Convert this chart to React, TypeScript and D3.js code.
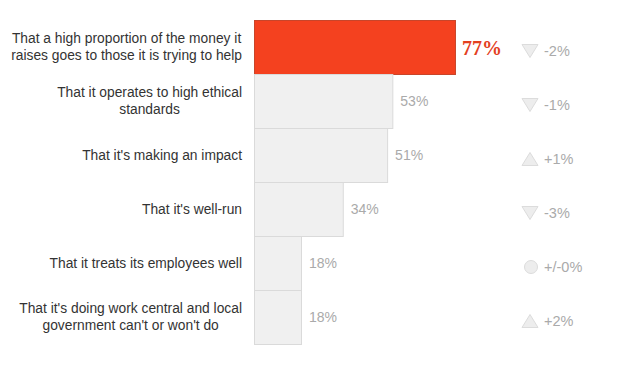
import React from "react";
import * as d3 from "d3";

const categories = [
  ["That a high proportion of the money it", "raises goes to those it is trying to help"],
  ["That it operates to high ethical", "standards"],
  ["That it's making an impact"],
  ["That it's well-run"],
  ["That it treats its employees well"],
  ["That it's doing work central and local", "government can't or won't do"],
];
const values = [77, 53, 51, 34, 18, 18];
const changes = [-2, -1, 1, -3, 0, 2];
const changeLabels = ["-2%", "-1%", "+1%", "-3%", "+/-0%", "+2%"];

let ctx: CanvasRenderingContext2D | null = null;
function measure(t: string, font: string) {
  if (!ctx) ctx = document.createElement("canvas").getContext("2d");
  if (!ctx) return t.length * 7;
  ctx.font = font;
  return ctx.measureText(t).width;
}

export default function App() {
  const W = 632, H = 384;
  const x = d3.scaleLinear().domain([0, 100]).range([254, 515]);
  const y = d3.scaleBand<number>().domain(d3.range(values.length)).range([20, 344]).padding(0);
  const bw = y.bandwidth();
  const font = "'Liberation Sans', Arial, sans-serif";
  const fs = 13.8;
  const labelRight = 242;
  return (
    <svg width={W} height={H} style={{ position: "absolute", left: 0, top: 0, background: "#fff" }}>
      {values.map((v, i) => {
        const y0 = y(i)!;
        const cy = y0 + bw / 2;
        const hl = i === 0;
        const lines = categories[i];
        const lh = 17;
        const ch = changes[i];
        const tx = 530;
        const ty = cy + 4;
        const maxW = Math.max(...lines.map((l) => measure(l, `${fs}px 'Liberation Sans'`)));
        const lx = labelRight - maxW / 2;
        return (
          <g key={i}>
            <rect x={x(0) + 0.5} y={y0 + 0.5} width={x(v) - x(0)} height={bw}
              fill={hl ? "#f4411f" : "#f0f0f0"} stroke={hl ? "#c8452a" : "#dadada"} strokeWidth={1} />
            {lines.map((l, j) => (
              <text key={j} x={lx} y={cy + (j - (lines.length - 1) / 2) * lh} dy="0.35em"
                textAnchor="middle" fontFamily={font} fontSize={fs} fill="#333">{l}</text>
            ))}
            {hl ? (
              <text x={x(v) + 7} y={cy + 1} dy="0.35em" fontFamily="'Liberation Serif', 'DejaVu Serif', serif"
                fontWeight="bold" fontSize={20} fill="#e3401f">{v}%</text>
            ) : (
              <text x={x(v) + 8} y={cy} dy="0.35em" fontFamily={font} fontSize={14} fill="#aaa">{v}%</text>
            )}
            {ch < 0 && (
              <path d={`M${tx - 8},${ty - 6.5} L${tx + 8},${ty - 6.5} L${tx},${ty + 6.5} Z`} fill="#ededed" stroke="#dcdcdc" />
            )}
            {ch > 0 && (
              <path d={`M${tx - 8},${ty + 6.5} L${tx + 8},${ty + 6.5} L${tx},${ty - 6.5} Z`} fill="#ededed" stroke="#dcdcdc" />
            )}
            {ch === 0 && <circle cx={tx + 1} cy={ty} r={6.5} fill="#ededed" stroke="#dcdcdc" />}
            <text x={544} y={ty} dy="0.35em" fontFamily={font} fontSize={14.5} fill="#aaa">{changeLabels[i]}</text>
          </g>
        );
      })}
    </svg>
  );
}
